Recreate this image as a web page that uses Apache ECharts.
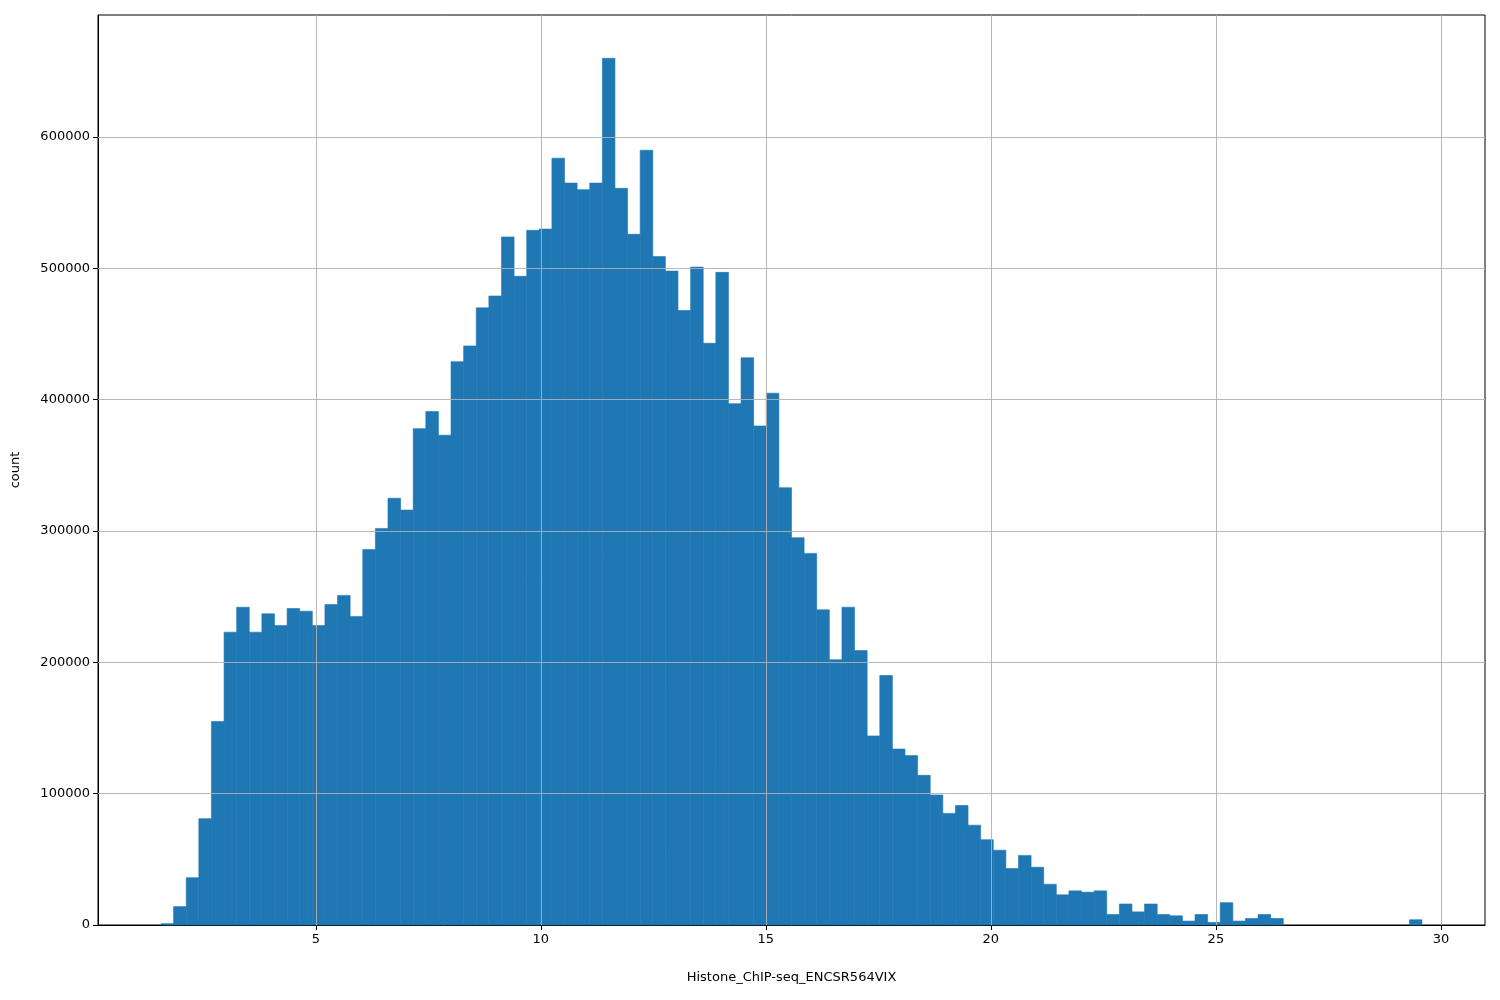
<!DOCTYPE html>
<html>
<head>
<meta charset="utf-8">
<script src="https://cdn.jsdelivr.net/npm/echarts@6/dist/echarts.min.js"></script>
<style>html,body{margin:0;padding:0;background:#fff}#chart{width:1500px;height:1000px}</style>
</head>
<body>
<div id="chart"></div>
<script>
// histogram: 100 bins from binStart with width binWidth
const binStart = 1.56
const binWidth = 0.2802
const counts = [
  1000, 14000, 36000, 81000, 155000, 223000, 242000, 223000, 237000, 228000,
  241000, 239000, 228000, 244000, 251000, 235000, 286000, 302000, 325000, 316000,
  378000, 391000, 373000, 429000, 441000, 470000, 479000, 524000, 494000, 529000,
  530000, 584000, 565000, 560000, 565000, 660000, 561000, 526000, 590000, 509000,
  498000, 468000, 501000, 443000, 497000, 397000, 432000, 380000, 405000, 333000,
  295000, 283000, 240000, 202000, 242000, 209000, 144000, 190000, 134000, 129000,
  114000, 99000, 85000, 91000, 76000, 65000, 57000, 43000, 53000, 44000,
  31000, 23000, 26000, 25000, 26000, 8000, 16000, 10000, 16000, 8000,
  7000, 3000, 8000, 2000, 17000, 3000, 5000, 8000, 5000, 0,
  0, 0, 0, 0, 0, 0, 0, 0, 0, 4000
]
const xTicks = [5, 10, 15, 20, 25, 30]
const yTicks = [0, 100000, 200000, 300000, 400000, 500000, 600000]

const bins = counts.map((c, i) => [binStart + i * binWidth, binStart + (i + 1) * binWidth, c])

const chart = echarts.init(document.getElementById('chart'))
const font = 'DejaVu Sans'
chart.setOption({
  animation: false,
  grid: { left: 98, right: 15, top: 15, bottom: 75, show: true, borderColor: '#000', borderWidth: 1 },
  xAxis: {
    type: 'value', min: 0.16, max: 30.98,
    name: 'Histone_ChIP-seq_ENCSR564VIX', nameLocation: 'middle', nameGap: 46,
    nameTextStyle: { color: '#000', fontSize: 13, fontFamily: font },
    axisLine: { onZero: false, lineStyle: { color: '#000' } },
    axisTick: { customValues: xTicks, length: 5, lineStyle: { color: '#000' } },
    axisLabel: { customValues: xTicks, color: '#000', fontSize: 13, fontFamily: font, margin: 8 },
    splitLine: { show: false }
  },
  yAxis: {
    type: 'value', min: 0, max: 693000,
    name: 'count', nameLocation: 'middle', nameGap: 76, nameRotate: 90,
    nameTextStyle: { color: '#000', fontSize: 13, fontFamily: font },
    axisLine: { show: true, lineStyle: { color: '#000' } },
    axisTick: { show: true, customValues: yTicks, length: 5, lineStyle: { color: '#000' } },
    axisLabel: { customValues: yTicks, formatter: v => String(v), color: '#000', fontSize: 13, fontFamily: font, margin: 8 },
    splitLine: { show: false }
  },
  series: [
    {
      type: 'custom',
      data: bins,
      z: 2,
      renderItem: (params, api) => {
        if (!api.value(2)) return null
        const p0 = api.coord([api.value(0), api.value(2)])
        const p1 = api.coord([api.value(1), 0])
        return {
          type: 'rect',
          shape: { x: p0[0], y: p0[1], width: p1[0] - p0[0], height: p1[1] - p0[1] },
          style: { fill: '#1f77b4', stroke: '#1f77b4', lineWidth: 0.6 }
        }
      }
    },
    {
      type: 'line', data: [], z: 5,
      markLine: {
        silent: true, symbol: 'none', label: { show: false },
        lineStyle: { color: '#b0b0b0', width: 1, type: 'solid', opacity: 0.9 },
        data: xTicks.map(v => ({ xAxis: v })).concat(yTicks.slice(1).map(v => ({ yAxis: v })))
      }
    }
  ]
})
</script>
</body>
</html>
